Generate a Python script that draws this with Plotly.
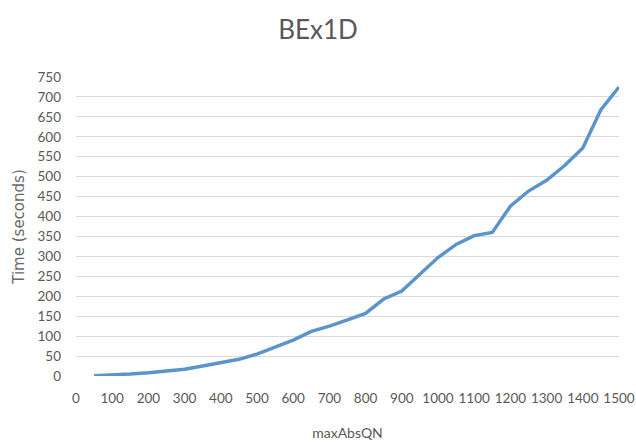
import plotly.graph_objects as go

max_abs_qn = [50, 100, 150, 200, 250, 300, 350, 400, 450, 500, 550, 600, 650, 700, 750,
              800, 850, 900, 950, 1000, 1050, 1100, 1150, 1200, 1250, 1300, 1350, 1400, 1450, 1500]
time_seconds = [1, 2, 5, 8, 12, 17, 25, 33, 42, 55, 72, 90, 112, 125, 141,
                157, 193, 213, 255, 297, 330, 352, 360, 426, 464, 491, 528, 572, 668, 725]
x_ticks = list(range(0, 1501, 100))
y_ticks = list(range(0, 751, 50))

text_color = "#595959"
font_family = "Lato, 'Open Sans', sans-serif"

fig = go.Figure()
fig.add_trace(go.Scatter(
    x=max_abs_qn, y=time_seconds, mode="lines",
    line=dict(color="#5B94CB", width=3.4),
    showlegend=False,
))

fig.update_layout(
    width=636, height=445,
    margin=dict(l=76, r=17, t=77, b=69, autoexpand=False),
    paper_bgcolor="white", plot_bgcolor="white",
    font=dict(family=font_family, color=text_color, size=13),
    title=dict(text="BEx1D", x=0.5, xanchor="center", y=0.933, yanchor="middle",
               font=dict(size=26, color=text_color, family=font_family)),
    xaxis=dict(
        range=[0, 1500], tickvals=x_ticks, showgrid=False, zeroline=False,
        showline=False, ticks="", ticklabelstandoff=12,
        tickfont=dict(size=13.5, color=text_color),
        title=dict(text="maxAbsQN", font=dict(size=14, color=text_color), standoff=23),
    ),
    yaxis=dict(
        range=[0, 750], tickvals=y_ticks, showgrid=True, gridcolor="#D9D9D9", gridwidth=1,
        zeroline=False, showline=False, ticks="", ticklabelstandoff=14,
        tickfont=dict(size=13.5, color=text_color),
        title=dict(text="Time (seconds)",
                   font=dict(size=15, color="#6a6a6a", family="'DejaVu Sans', sans-serif"),
                   standoff=9),
    ),
)

fig.write_html(
    "out.html",
    config={"displayModeBar": False},
    post_script="document.body.style.margin='0';document.documentElement.style.overflow='hidden';",
)
